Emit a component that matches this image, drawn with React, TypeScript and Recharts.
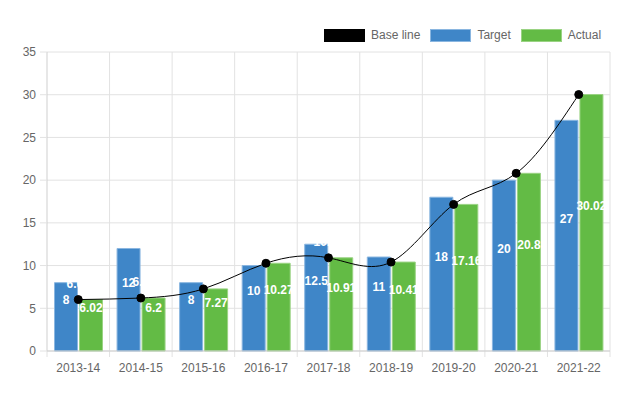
import React from "react";
import * as R from "recharts";
import {
  ComposedChart,
  Bar,
  Line,
  XAxis,
  YAxis,
  CartesianGrid,
  LabelList,
} from "recharts";

const years = [
  "2013-14",
  "2014-15",
  "2015-16",
  "2016-17",
  "2017-18",
  "2018-19",
  "2019-20",
  "2020-21",
  "2021-22",
];
const target = [8, 12, 8, 10, 12.5, 11, 18, 20, 27];
const actual = [6.02, 6.2, 7.27, 10.27, 10.91, 10.41, 17.16, 20.8, 30.02];
const baseLine = [6.02, 6.2, 7.27, 10.27, 10.91, 10.41, 17.16, 20.8, 30.02];
const yTicks = [0, 5, 10, 15, 20, 25, 30, 35];

const data = years.map((year, i) => ({
  year,
  target: target[i],
  actual: actual[i],
  base: baseLine[i],
}));

const FONT = "'Liberation Sans', Arial, sans-serif";

// 棒の中の白いラベル（少し上寄せ）
const BarLabel = (props: any) => {
  const { x, y, width, height, value } = props;
  return (
    <text
      x={x + width / 2}
      y={y + height / 2 - 16}
      fill="#fff"
      fontSize={12}
      fontWeight="bold"
      fontFamily={FONT}
      textAnchor="middle"
      dominantBaseline="middle"
    >
      {value}
    </text>
  );
};

// 折れ線の点の上のラベル（白なので青い棒の上だけ見える）
const LineLabel = (props: any) => {
  const { x, y, value } = props;
  return (
    <text
      x={x}
      y={y - 15}
      fill="#fff"
      fontSize={12}
      fontWeight="bold"
      fontFamily={FONT}
      textAnchor="middle"
      dominantBaseline="middle"
    >
      {value}
    </text>
  );
};

// x軸の区切りの目盛り線（カテゴリ境界）
const BoundaryTicks = () => {
  const usePlot = (R as any).usePlotArea;
  const area = usePlot ? usePlot() : null;
  if (!area) return null;
  const bottom = area.y + area.height;
  return (
    <g>
      {[-1, ...years.map((_, i) => i)].map((i) => {
        const x = area.x + ((i + 1) * area.width) / years.length;
        return (
          <line key={i} x1={x} x2={x} y1={bottom} y2={bottom + 6} stroke="#e2e2e2" />
        );
      })}
    </g>
  );
};

const legendItems = [
  { name: "Base line", color: "#000", border: "#000" },
  { name: "Target", color: "#3f86c8", border: "#8ab6e0" },
  { name: "Actual", color: "#63bb45", border: "#9ad383" },
];

const App: React.FC = () => {
  return (
    <div style={{ position: "absolute", left: 0, top: 0, width: 630, height: 400 }}>
      <div
        style={{
          position: "absolute",
          left: 324,
          top: 28,
          display: "flex",
          alignItems: "center",
          fontFamily: FONT,
          fontSize: 12,
          color: "#666",
        }}
      >
        {legendItems.map((it) => (
          <div key={it.name} style={{ display: "flex", alignItems: "center", marginRight: 10 }}>
            <span
              style={{
                display: "inline-block",
                width: 39,
                height: 11,
                background: it.color,
                border: `1px solid ${it.border}`,
                marginRight: 6,
              }}
            />
            <span>{it.name}</span>
          </div>
        ))}
      </div>
      <ComposedChart
        width={630}
        height={400}
        data={data}
        margin={{ top: 52, right: 20, left: 0, bottom: 19 }}
        barCategoryGap="12%"
        barGap={2}
      >
        <CartesianGrid
          stroke="#e2e2e2"
          verticalCoordinatesGenerator={({ offset }: any) =>
            years.map((_, i) => offset.left + ((i + 1) * offset.width) / years.length)
          }
        />
        <XAxis
          dataKey="year"
          height={30}
          tickLine={false}
          tickMargin={6}
          axisLine={{ stroke: "#cfcfcf" }}
          tick={{ fontSize: 12, fill: "#666", fontFamily: FONT }}
          interval={0}
        />
        <YAxis
          width={47}
          domain={[0, 35]}
          ticks={yTicks}
          tickSize={7}
          tickMargin={4}
          tickLine={{ stroke: "#e2e2e2" }}
          axisLine={{ stroke: "#cfcfcf" }}
          tick={{ fontSize: 12, fill: "#666", fontFamily: FONT }}
        />
        <BoundaryTicks />
        <Bar
          dataKey="target"
          name="Target"
          fill="#3f86c8"
          stroke="#8ab6e0"
          strokeWidth={1}
          isAnimationActive={false}
        >
          <LabelList dataKey="target" content={<BarLabel />} />
        </Bar>
        <Bar
          dataKey="actual"
          name="Actual"
          fill="#63bb45"
          stroke="#9ad383"
          strokeWidth={1}
          isAnimationActive={false}
        >
          <LabelList dataKey="actual" content={<BarLabel />} />
        </Bar>
        <Line
          type="natural"
          dataKey="base"
          name="Base line"
          stroke="#000"
          strokeWidth={1}
          dot={{ r: 4, fill: "#000", stroke: "#000", strokeWidth: 1 }}
          isAnimationActive={false}
        >
          <LabelList dataKey="base" content={<LineLabel />} />
        </Line>
      </ComposedChart>
    </div>
  );
};

export default App;
